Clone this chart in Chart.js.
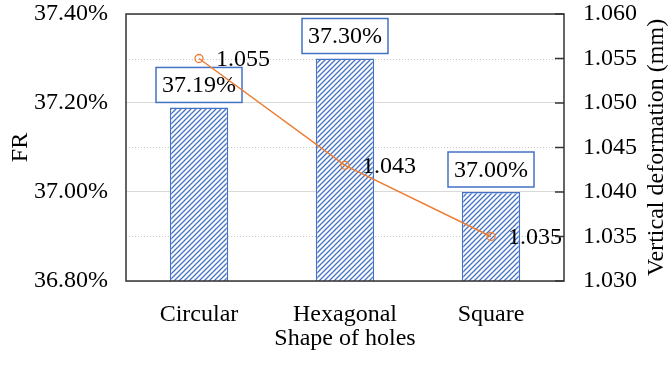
<!DOCTYPE html>
<html>
<head>
<meta charset="utf-8">
<script src="https://cdn.jsdelivr.net/npm/chart.js@4.4.1/dist/chart.umd.min.js"></script>
<style>
body{margin:0;background:#fff;}
</style>
</head>
<body>
<canvas id="chart" width="672" height="365"></canvas>
<script>
var shapes=["Circular","Hexagonal","Square"];
var frValues=[37.19,37.30,37.00];
var deformValues=[1.055,1.043,1.035];
var frTicks=[36.8,37.0,37.2,37.4];
var frMinor=[36.9,37.1,37.3];
var deformTicks=[1.030,1.035,1.040,1.045,1.050,1.055,1.060];

var blue='#4472C4';
var orange='#ED7D31';
var font="'Liberation Serif','Times New Roman',serif";

function hatch(){
    var c=document.createElement('canvas');
    c.width=5;c.height=5;
    var x=c.getContext('2d');
    x.fillStyle='#fff';x.fillRect(0,0,5,5);
    x.strokeStyle=blue;x.lineWidth=1.3;
    x.beginPath();
    x.moveTo(-1,6);x.lineTo(6,-1);
    x.moveTo(-1,1);x.lineTo(1,-1);
    x.moveTo(4,6);x.lineTo(6,4);
    x.stroke();
    return x.createPattern(c,'repeat');
}

var extras={
    id:'extras',
    beforeDatasetsDraw:function(chart){
        var ctx=chart.ctx,a=chart.chartArea,y=chart.scales.y;
        ctx.save();
        ctx.strokeStyle='#c8c8c8';ctx.lineWidth=1;ctx.setLineDash([1,2]);
        for(var i=0;i<frMinor.length;i++){
            var py=Math.round(y.getPixelForValue(frMinor[i]))+0.5;
            ctx.beginPath();ctx.moveTo(a.left,py);ctx.lineTo(a.right,py);ctx.stroke();
        }
        ctx.restore();
    },
    afterDatasetDraw:function(chart,args){
        if(args.index!=0)return;
        var ctx=chart.ctx;
        var bars=chart.getDatasetMeta(0).data;
        ctx.save();
        ctx.font='24px '+font;
        ctx.textAlign='center';ctx.textBaseline='middle';
        for(var i=0;i<bars.length;i++){
            var bx=bars[i].x,by=bars[i].y;
            var w=86,h=35,top=by-5-h;
            ctx.fillStyle='#fff';ctx.fillRect(bx-w/2,top,w,h);
            ctx.strokeStyle=blue;ctx.lineWidth=1.5;ctx.strokeRect(bx-w/2,top,w,h);
            ctx.fillStyle='#000';
            ctx.fillText(frValues[i].toFixed(2)+'%',bx,top+h/2+1);
        }
        ctx.restore();
    },
    afterDatasetsDraw:function(chart){
        var ctx=chart.ctx,a=chart.chartArea,y1=chart.scales.y1;
        var pts=chart.getDatasetMeta(1).data;
        ctx.save();
        ctx.font='24px '+font;
        ctx.fillStyle='#000';ctx.textAlign='left';ctx.textBaseline='middle';
        for(var i=0;i<pts.length;i++){
            ctx.fillText(deformValues[i].toFixed(3),pts[i].x+17,pts[i].y+1);
        }
        // right axis ticks, pointing inward
        ctx.strokeStyle='#333';ctx.lineWidth=1.5;
        for(var j=0;j<deformTicks.length;j++){
            var py=y1.getPixelForValue(deformTicks[j]);
            ctx.beginPath();ctx.moveTo(a.right-9,py);ctx.lineTo(a.right,py);ctx.stroke();
        }
        ctx.strokeRect(a.left,a.top,a.right-a.left,a.bottom-a.top);
        // right title reads bottom to top
        ctx.translate(657,(a.top+a.bottom)/2);
        ctx.rotate(-Math.PI/2);
        ctx.textAlign='center';
        ctx.fillText('Vertical deformation (mm)',0,0);
        ctx.restore();
    }
};

window.onload=function(){
    var ctx=document.getElementById('chart').getContext('2d');
    var chart=new Chart(ctx,{
        data:{
            labels:shapes,
            datasets:[
                {type:'bar',label:'FR',data:frValues,yAxisID:'y',order:1,
                 backgroundColor:hatch(),borderColor:blue,borderWidth:1.5,
                 barPercentage:0.4,categoryPercentage:1},
                {type:'line',label:'Vertical deformation',data:deformValues,yAxisID:'y1',order:0,
                 borderColor:orange,borderWidth:1.5,pointRadius:4,pointBorderWidth:1.3,
                 pointBackgroundColor:'rgba(0,0,0,0)',pointBorderColor:orange,tension:0}
            ]
        },
        options:{
            responsive:false,animation:false,
            layout:{padding:{top:0,left:0,right:0,bottom:0}},
            plugins:{legend:{display:false},tooltip:{enabled:false}},
            scales:{
                x:{
                    grid:{display:false},border:{display:false},
                    ticks:{color:'#000',font:{family:font,size:24},padding:11,maxRotation:0},
                    title:{display:true,text:'Shape of holes',color:'#000',font:{family:font,size:24},padding:{top:0,bottom:12}},
                    afterFit:function(s){s.height=84;}
                },
                y:{
                    position:'left',min:36.8,max:37.4,
                    afterBuildTicks:function(s){s.ticks=frTicks.map(function(v){return {value:v};});},
                    grid:{color:'#d9d9d9',drawTicks:false},border:{display:false},
                    ticks:{color:'#000',font:{family:font,size:24},padding:18,
                        callback:function(v){return v.toFixed(2)+'%';}},
                    title:{display:true,text:'FR',color:'#000',font:{family:font,size:24},padding:{top:6,bottom:0}},
                    afterFit:function(s){s.width=126;s.paddingTop=14;s.paddingBottom=0;}
                },
                y1:{
                    position:'right',min:1.030,max:1.060,
                    afterBuildTicks:function(s){s.ticks=deformTicks.map(function(v){return {value:v};});},
                    grid:{drawOnChartArea:false,drawTicks:false},border:{display:false},
                    ticks:{color:'#000',font:{family:font,size:24},padding:19,
                        callback:function(v){return v.toFixed(3);}},
                    afterFit:function(s){s.width=108;s.paddingTop=14;s.paddingBottom=0;}
                }
            }
        },
        plugins:[extras]
    });
};
</script>
</body>
</html>
